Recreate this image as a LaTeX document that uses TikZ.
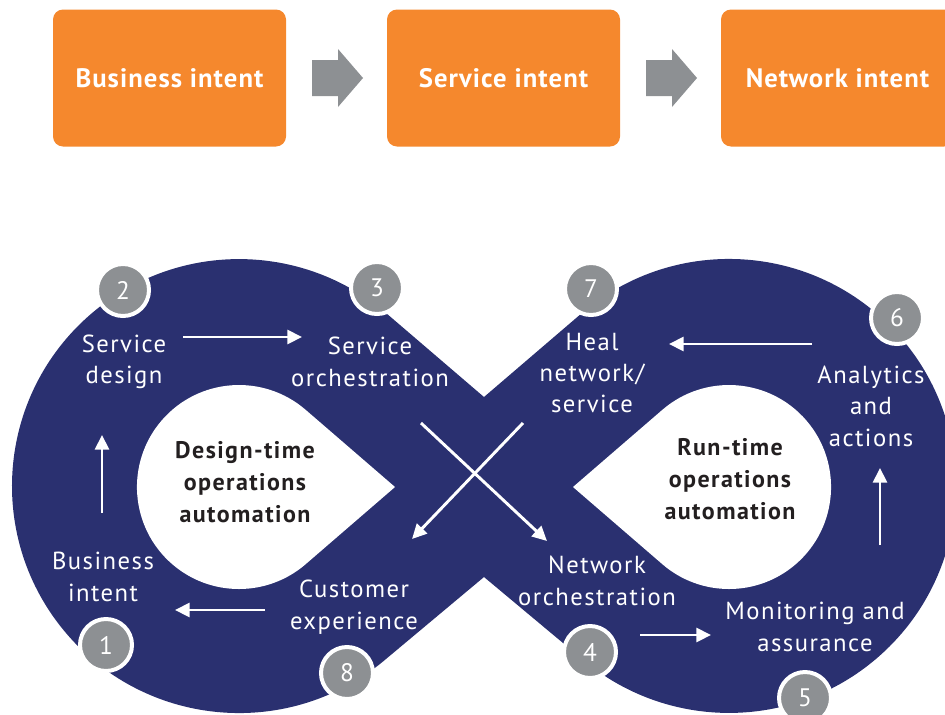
\documentclass[tikz,border=0pt]{standalone}
\usepackage{fontspec}
\setmainfont{PT Sans}
\newfontfamily\labfont[LetterSpace=6]{PT Sans}
\newfontfamily\boxfont[LetterSpace=4]{PT Sans}
\newfontfamily\ctrfont[LetterSpace=6]{PT Sans}
\usetikzlibrary{arrows.meta}
\definecolor{navy}{RGB}{42,48,112}
\definecolor{orangebox}{RGB}{245,136,45}
\definecolor{greyc}{RGB}{141,144,147}
\definecolor{darktext}{RGB}{35,31,32}
\begin{document}
\begin{tikzpicture}[x=0.75pt,y=-0.75pt,
  box/.style={fill=orangebox, rounded corners=7.5pt, minimum width=174.75pt, minimum height=102.75pt, text=white, font=\boxfont\fontsize{20}{24}\selectfont\bfseries, inner sep=0pt},
  lab/.style={text=white, align=center, font=\labfont\fontsize{18.5}{23.6}\selectfont, inner sep=0pt},
  num/.style={circle, fill=greyc, draw=white, line width=3pt, minimum size=39pt, text=white, font=\fontsize{19}{20}\selectfont, inner sep=0pt},
  ctr/.style={text=darktext, align=center, font=\ctrfont\fontsize{18}{24}\selectfont\bfseries, inner sep=0pt},
  warrow/.style={white, line width=2.2pt, -{Triangle[length=11pt,width=10.5pt]}},
  garrow/.style={fill=greyc},
]
\useasboundingbox (0,0) rectangle (945,714);
\clip (0,0) rectangle (945,714);

% top boxes
\node[box] (b1) at (169.5,78) {Business intent};
\node[box] (b2) at (503.5,78) {Service intent};
\node[box] (b3) at (837.5,78) {Network intent};
\fill[garrow] (312,60) -- (338,60) -- (338,49) -- (363,78) -- (338,107) -- (338,96) -- (312,96) -- cycle;
\fill[garrow] (646,60) -- (672,60) -- (672,49) -- (697,78) -- (672,107) -- (672,96) -- (646,96) -- cycle;

% infinity band
\fill[navy] (386.7,313.6) -- (484,397) -- (581.3,313.6)
  arc[start angle=-130.6, end angle=130.6, radius=227]
  -- (484,577) -- (386.7,658.4)
  arc[start angle=49.4, end angle=310.6, radius=227] -- cycle;
\fill[white] (395,487) -- (305.6,409.8) arc[start angle=-49.2, end angle=-310.8, radius=102] -- cycle;
\fill[white] (573,487) -- (662.4,409.8) arc[start angle=-130.8, end angle=130.8, radius=102] -- cycle;

% labels
\node[lab] (l1) at (103,577) {Business\\intent};
\node[lab] (l2) at (124,362) {Service\\design};
\node[lab] (l3) at (370,362) {Service\\orchestration};
\node[lab] (l4) at (597,581) {Network\\orchestration};
\node[lab] (l5) at (815,627) {Monitoring and\\assurance};
\node[lab] (l6) at (871,406) {Analytics\\and\\actions};
\node[lab] (l7) at (592,373) {Heal\\network/\\service};
\node[lab] (l8) at (354,607) {Customer\\experience};
\node[ctr] (c1) at (245,482) {Design-time\\operations\\automation};
\node[ctr] (c2) at (730,479) {Run-time\\operations\\automation};

% arrows
\coordinate (a1s) at (183,337); \coordinate (a1e) at (302,337);
\coordinate (a2s) at (102,513); \coordinate (a2e) at (102,435);
\coordinate (a3s) at (265,610); \coordinate (a3e) at (175,610);
\coordinate (a4s) at (421,423); \coordinate (a4e) at (547,541);
\coordinate (a5s) at (523,423); \coordinate (a5e) at (412,539);
\coordinate (a6s) at (640,635); \coordinate (a6e) at (711,635);
\coordinate (a7s) at (880,545); \coordinate (a7e) at (880,468);
\coordinate (a8s) at (812,344); \coordinate (a8e) at (669,344);
\draw[warrow] (a1s) -- (a1e);
\draw[warrow] (a2s) -- (a2e);
\draw[warrow] (a3s) -- (a3e);
\draw[warrow] (a4s) -- (a4e);
\draw[warrow] (a5s) -- (a5e);
\draw[warrow] (a6s) -- (a6e);
\draw[warrow] (a7s) -- (a7e);
\draw[warrow] (a8s) -- (a8e);

% number circles
\node[num] (n1) at (106,645) {1};
\node[num] (n2) at (123,290) {2};
\node[num] (n3) at (377,288) {3};
\node[num] (n4) at (590,652) {4};
\node[num] (n5) at (805,698) {5};
\node[num] (n6) at (897,318) {6};
\node[num] (n7) at (591,289) {7};
\node[num] (n8) at (347,673) {8};
\end{tikzpicture}
\end{document}
